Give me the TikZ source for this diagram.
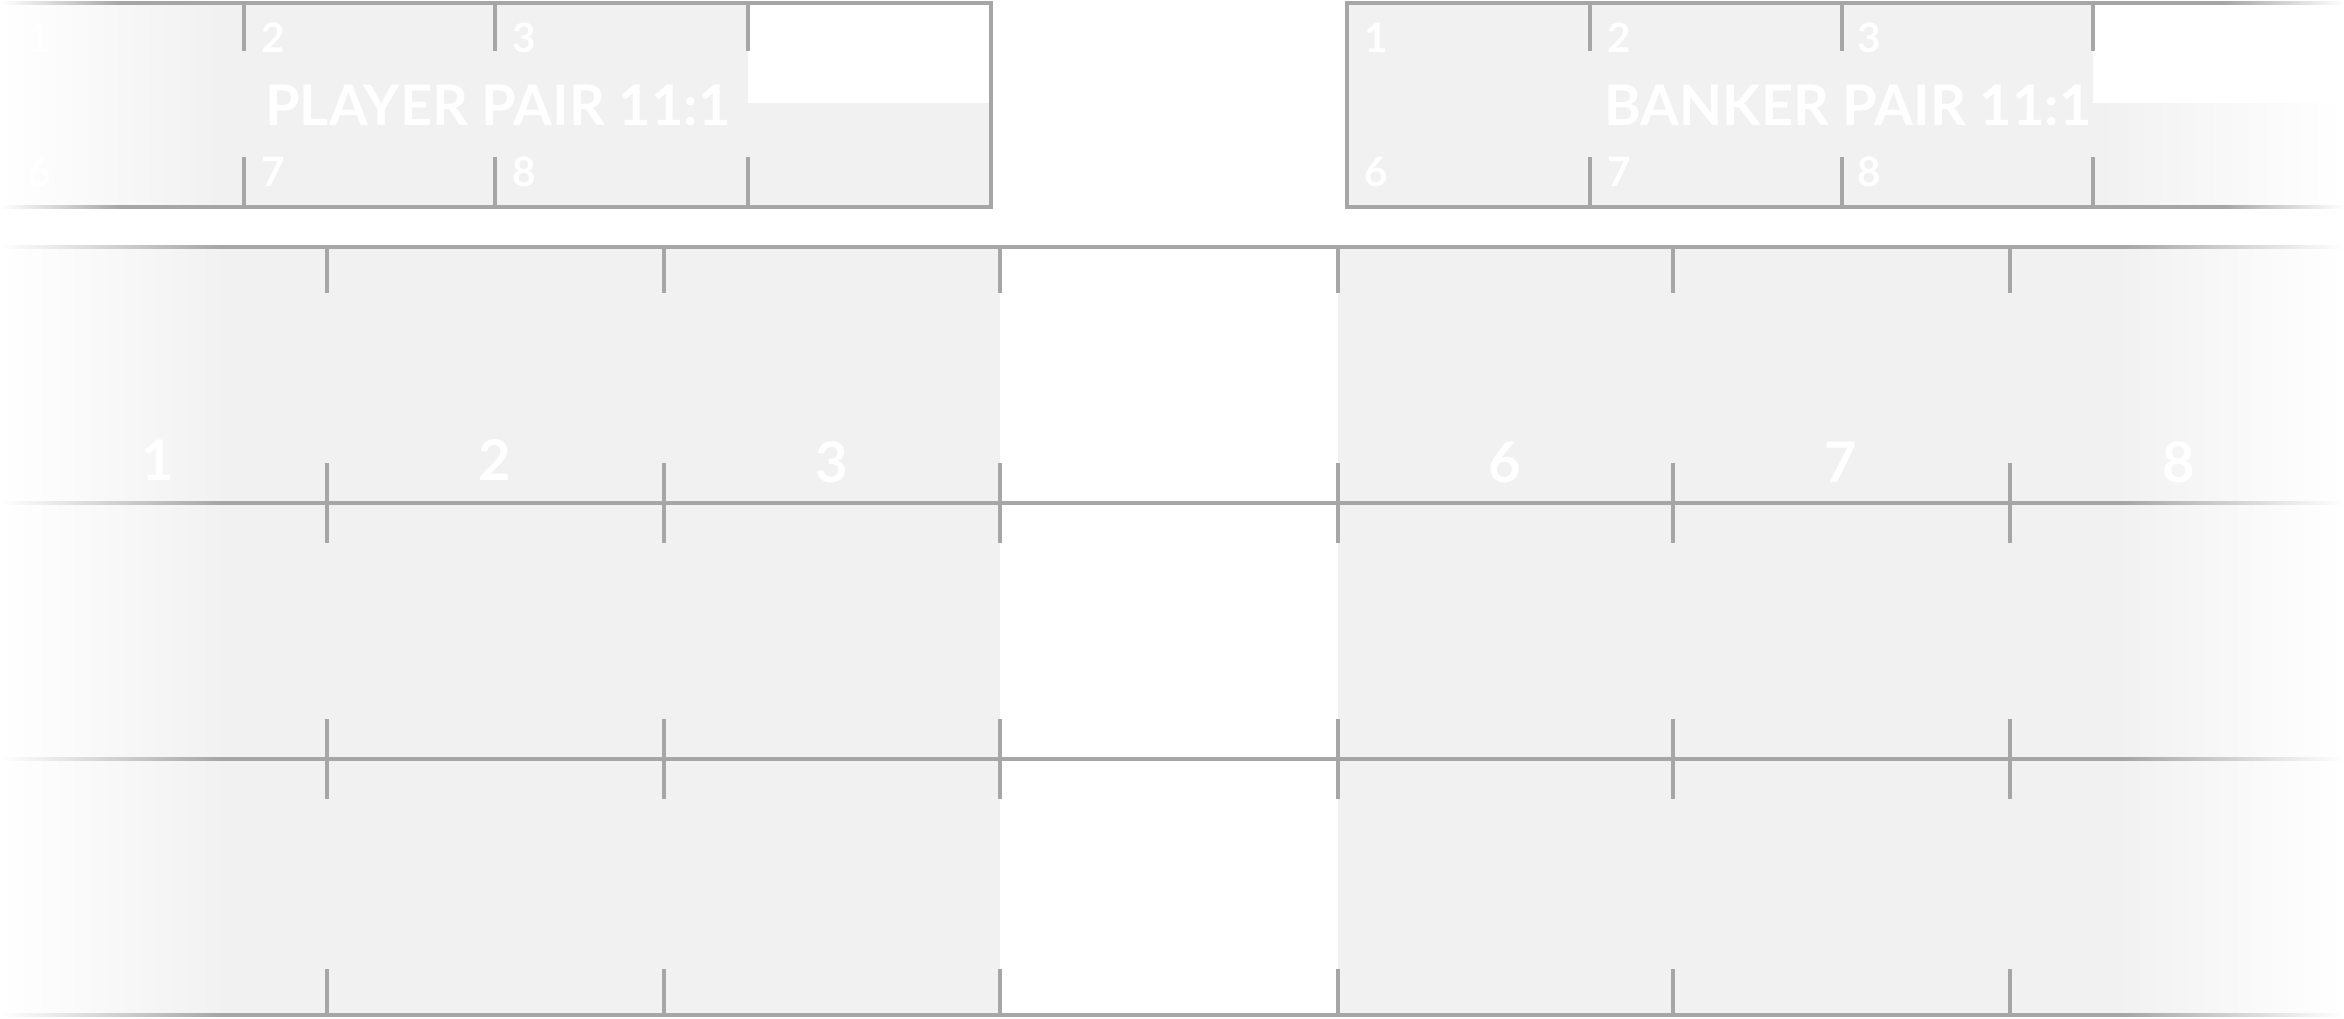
\documentclass[tikz,border=0pt]{standalone}
\usepackage{fontspec}
\setmainfont{Lato}
\definecolor{lc}{HTML}{A6A6A6}
\definecolor{fc}{HTML}{F1F1F1}
\newcommand\myhl[5]{% y, start, solid start, solid end, end
  \shade[left color=white,right color=lc] (#2,#1-1.75) rectangle (#3,#1+1.75);
  \fill[lc] (#3,#1-1.75) rectangle (#4,#1+1.75);
  \shade[left color=lc,right color=white] (#4,#1-1.75) rectangle (#5,#1+1.75);}
\tikzset{
  tick/.style={draw=lc,line width=3.5pt},
  title/.style={text=white,font=\bfseries\fontsize{56}{60}\selectfont,inner sep=0pt,anchor=base},
  bigdig/.style={text=white,font=\bfseries\fontsize{56}{60}\selectfont,inner sep=0pt,anchor=base},
  smdig/.style={text=white,font=\bfseries\fontsize{40.5}{44}\selectfont,inner sep=0pt,anchor=base west}
}
\begin{document}
\begin{tikzpicture}[x=1pt,y=-1pt]
\useasboundingbox (0,0) rectangle (2344,1018);
\fill[white] (0,0) rectangle (2344,1018);
% ---------- pair boxes fills ----------
\shade[left color=white,right color=fc] (0,3) rectangle (220,207);
\fill[fc] (220,3) rectangle (991,207);
\fill[white] (748,3) rectangle (991,103);
\fill[fc] (1347,3) rectangle (2100,207);
\shade[left color=fc,right color=white] (2100,3) rectangle (2344,207);
\fill[white] (2093,3) rectangle (2344,103);
% ---------- grid fills ----------
\shade[left color=white,right color=fc] (0,247) rectangle (230,1015);
\fill[fc] (230,247) rectangle (1000,1015);
\fill[fc] (1338,247) rectangle (2114,1015);
\shade[left color=fc,right color=white] (2114,247) rectangle (2344,1015);
% ---------- pair box outlines ----------
\myhl{3}{0}{120}{992.75}{992.75}
\myhl{207}{0}{120}{992.75}{992.75}
\fill[lc] (989.25,1.25) rectangle (992.75,208.75);
\myhl{3}{1345.25}{1345.25}{2224}{2344}
\myhl{207}{1345.25}{1345.25}{2224}{2344}
\fill[lc] (1345.25,1.25) rectangle (1348.75,208.75);
\foreach \x in {244,495,748,1590,1842,2093}{
  \draw[tick] (\x,3) -- (\x,51);
  \draw[tick] (\x,157) -- (\x,207);
}
% ---------- grid lines ----------
\foreach \y in {247,503,759,1015}{ \myhl{\y}{0}{220}{2124}{2344} }
\foreach \x in {327,664,1000,1338,1673,2010}{
  \draw[tick] (\x,247) -- (\x,293);
  \draw[tick] (\x,463) -- (\x,543);
  \draw[tick] (\x,719) -- (\x,799);
  \draw[tick] (\x,969) -- (\x,1015);
}
% ---------- texts ----------
\node[title] (pt) at (498,125) {PLAYER PAIR 11:1};
\node[title] (bt) at (1848,125) {BANKER PAIR 11:1};
\node[smdig] (p1) at (27,52) {1};
\node[smdig] (p2) at (261,52) {2};
\node[smdig] (p3) at (512,52) {3};
\node[smdig] (p6) at (27,186) {6};
\node[smdig] (p7) at (261,186) {7};
\node[smdig] (p8) at (512,186) {8};
\node[smdig] (b1) at (1364,52) {1};
\node[smdig] (b2) at (1607,52) {2};
\node[smdig] (b3) at (1857,52) {3};
\node[smdig] (b6) at (1364,186) {6};
\node[smdig] (b7) at (1607,186) {7};
\node[smdig] (b8) at (1857,186) {8};
\node[bigdig] (g1) at (158,480) {1};
\node[bigdig] (g2) at (495,480) {2};
\node[bigdig] (g3) at (832,482) {3};
\node[bigdig] (g6) at (1505,482) {6};
\node[bigdig] (g7) at (1841,482) {7};
\node[bigdig] (g8) at (2179,482) {8};
\end{tikzpicture}
\end{document}
